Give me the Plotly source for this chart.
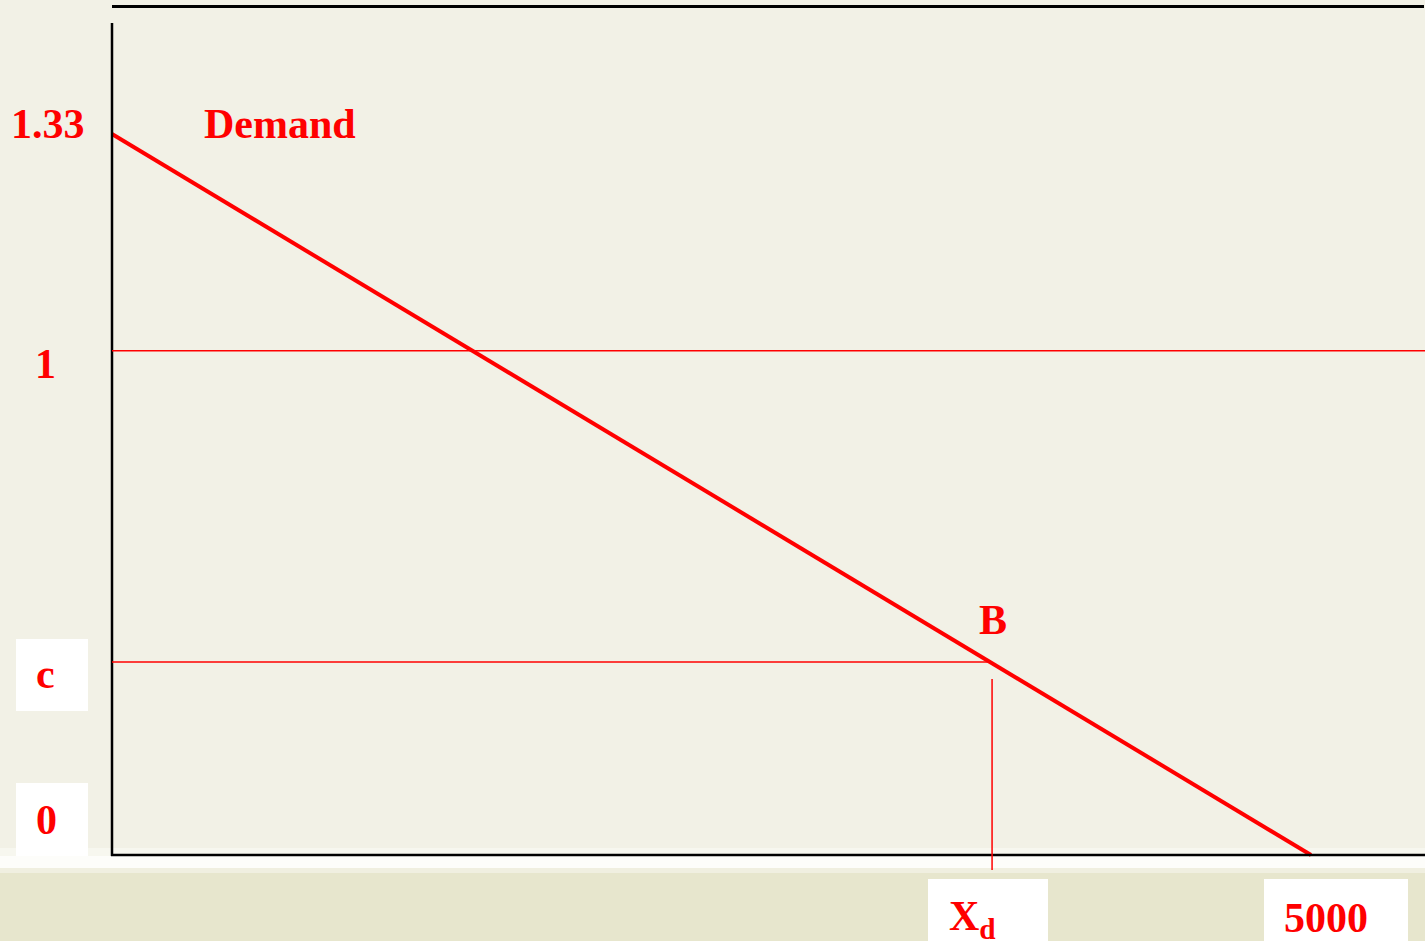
import plotly.graph_objects as go

# ---- data ----
demand_x = [0, 5000]          # quantity
demand_y = [1.33, 0.0]        # price
price_one = 0.93              # level of the "1" line as drawn
price_c = 0.356               # level of the "c" line
x_d = 3665                    # quantity at point B
y_labels = ["1.33", "1", "c", "0"]
x_labels = ["X<sub>d</sub>", "5000"]
curve_label = "Demand"
point_label = "B"

W, H = 1425, 941
# axis scale: x=0 -> px 112, x=5000 -> px 1311 ; y=0 -> px 855, y=1.33 -> px 134
sx = (1311 - 112) / 5000.0
sy = (855 - 134) / 1.33
x_range = [-112 / sx, (W - 112) / sx]
y_range = [-(H - 855) / sy, 855 / sy]

RED = "#FF0000"
BG = "#F2F1E6"
BAND = "#E7E6CD"
FONT = "Liberation Serif"


def px(x):
    return x / W


def py(y):
    return 1 - y / H


fig = go.Figure()

shapes = []
# bottom band and white strip
shapes.append(dict(type="rect", xref="paper", yref="paper", x0=0, x1=1, y0=0, y1=py(870),
                   fillcolor=BAND, line_width=0, layer="below"))
shapes.append(dict(type="rect", xref="paper", yref="paper", x0=0, x1=1, y0=py(873), y1=py(868),
                   fillcolor="#F0EFE0", line_width=0, layer="below"))
shapes.append(dict(type="rect", xref="paper", yref="paper", x0=0, x1=1, y0=py(868), y1=py(856),
                   fillcolor="#FDFDFA", line_width=0, layer="below"))
shapes.append(dict(type="rect", xref="paper", yref="paper", x0=0, x1=1, y0=py(856), y1=py(848),
                   fillcolor="#F7F7EF", line_width=0, layer="below"))
# white label boxes
for (x0, y0, x1, y1) in [(16, 639, 88, 711), (16, 783, 88, 856), (928, 879, 1048, 941), (1264, 879, 1408, 941)]:
    shapes.append(dict(type="rect", xref="paper", yref="paper", x0=px(x0), x1=px(x1),
                       y0=py(y1), y1=py(y0), fillcolor="white", line_width=0, layer="below"))
# frame lines
shapes.append(dict(type="line", xref="paper", yref="paper", x0=px(112), x1=px(1424),
                   y0=py(6.5), y1=py(6.5), line=dict(color="black", width=3)))
shapes.append(dict(type="line", xref="paper", yref="paper", x0=px(112), x1=px(112),
                   y0=py(23), y1=py(856), line=dict(color="black", width=2.5)))
shapes.append(dict(type="line", xref="paper", yref="paper", x0=px(111), x1=1,
                   y0=py(855), y1=py(855), line=dict(color="black", width=2.5)))
# price lines
shapes.append(dict(type="line", xref="x", yref="y", x0=0, x1=x_range[1],
                   y0=price_one, y1=price_one, line=dict(color=RED, width=1.5)))
shapes.append(dict(type="line", xref="x", yref="y", x0=0, x1=x_d,
                   y0=price_c, y1=price_c, line=dict(color=RED, width=1.5)))
shapes.append(dict(type="line", xref="x", yref="paper", x0=x_d + 5, x1=x_d + 5,
                   y0=py(870), y1=py(679), line=dict(color=RED, width=1.5)))

fig.add_trace(go.Scatter(x=demand_x, y=demand_y, mode="lines",
                         line=dict(color=RED, width=4), hoverinfo="skip", showlegend=False))

annotations = []


def lab(text, x, y, size=42):
    annotations.append(dict(text="<b>%s</b>" % text, xref="paper", yref="paper",
                            x=px(x), y=py(y), xanchor="center", yanchor="middle",
                            showarrow=False, font=dict(family=FONT, size=size, color=RED)))


lab(y_labels[0], 48, 124)
lab(y_labels[1], 45, 364)
lab(y_labels[2], 45, 674)
lab(y_labels[3], 46, 820)
lab(curve_label, 280, 124)
lab(point_label, 993, 620)
lab(x_labels[0], 972, 919)
lab(x_labels[1], 1326, 918)

fig.update_layout(
    width=W, height=H,
    margin=dict(l=0, r=0, t=0, b=0),
    paper_bgcolor=BG, plot_bgcolor=BG,
    shapes=shapes, annotations=annotations,
    xaxis=dict(range=x_range, visible=False, fixedrange=True),
    yaxis=dict(range=y_range, visible=False, fixedrange=True),
    showlegend=False,
)

fig.write_html("out.html", config={"displayModeBar": False},
               post_script="document.body.style.margin='0';document.body.style.overflow='hidden';")
